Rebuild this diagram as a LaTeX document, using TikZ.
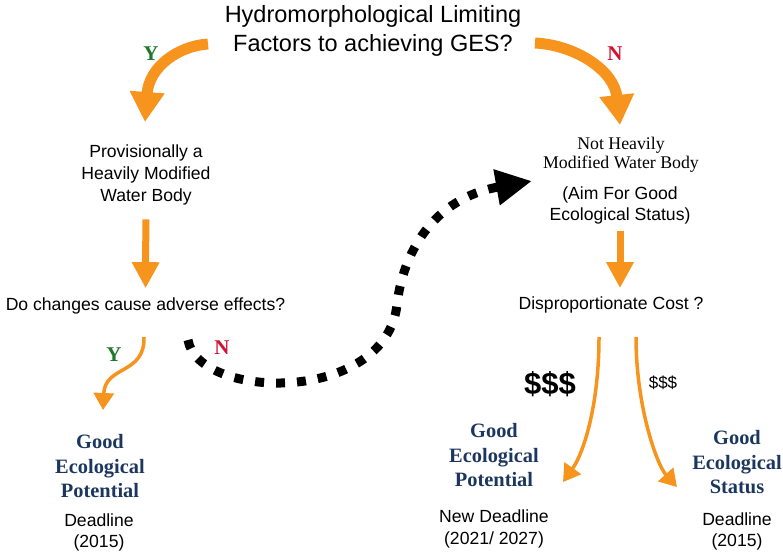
\documentclass[tikz,border=0pt]{standalone}
\usepackage{fontspec}
\setmainfont{Liberation Sans}
\newfontfamily\timesfont{Liberation Serif}
\usetikzlibrary{arrows.meta}

\definecolor{arroworange}{RGB}{247,148,29}
\definecolor{statusblue}{RGB}{28,55,95}
\definecolor{yesgreen}{RGB}{30,120,45}
\definecolor{nored}{RGB}{210,20,50}

\begin{document}
\begin{tikzpicture}
    [
        x=1pt, y=1pt,
        box/.style={inner sep=0pt, align=center, font=\fontsize{17.6}{22}\selectfont},
        serifbox/.style={inner sep=0pt, align=center, font=\timesfont\fontsize{17.8}{19}\selectfont},
        outcome/.style={inner sep=0pt, align=center, text=statusblue, font=\timesfont\bfseries\fontsize{20.4}{24.5}\selectfont},
        answer/.style={inner sep=0pt, font=\timesfont\bfseries\fontsize{21}{21}\selectfont},
        fat/.style={arroworange, line width=11pt, -{Triangle[width=33pt,length=30pt]}},
        drop/.style={arroworange, line width=7pt, -{Triangle[width=26pt,length=26pt]}},
        slim/.style={arroworange, line width=3.5pt, -{Triangle[width=20pt,length=17pt]}},
        hop/.style={black, line width=9pt, dash pattern=on 9pt off 12pt, -{Triangle[width=34pt,length=36pt]}},
    ]
    \useasboundingbox (0,0) rectangle (783,-552);

    % question
    \node (title) at (373,-31) [box, font=\fontsize{23.5}{29}\selectfont] {Hydromorphological Limiting\\Factors to achieving GES?};

    % yes side
    \node (prov)    at (146,-175)     [box]     {Provisionally a\\Heavily Modified\\Water Body};
    \node (adverse) at (145.5,-305.6) [box]     {Do changes cause adverse effects?};
    \node (gepL)    at (100,-466.3)   [outcome] {Good\\Ecological\\Potential};
    \node (dlL)     at (99,-532)      [box, font=\fontsize{17.6}{21}\selectfont] {Deadline\\(2015)};

    % no side
    \node (nothmwb) at (621,-154.5)   [serifbox] {Not Heavily\\Modified Water Body};
    \node (aim)     at (620,-205)     [box, font=\fontsize{17.6}{21}\selectfont] {(Aim For Good\\Ecological Status)};
    \node (disp)    at (611,-304.5)   [box]     {Disproportionate Cost ?};
    \node (gepM)    at (494,-455.4)   [outcome] {Good\\Ecological\\Potential};
    \node (dlM)     at (494,-529)     [box]     {New Deadline\\(2021/ 2027)};
    \node (gesR)    at (737,-462.4)   [outcome] {Good\\Ecological\\Status};
    \node (dlR)     at (737,-531.5)   [box, font=\fontsize{17.6}{21}\selectfont] {Deadline\\(2015)};

    % answers
    \node (yesA)   at (151,-54)  [answer, text=yesgreen] {Y};
    \node (noA)    at (615,-54)  [answer, text=nored]    {N};
    \node (yesB)   at (114,-355) [answer, text=yesgreen] {Y};
    \node (noB)    at (222,-348) [answer, text=nored]    {N};
    \node (costHi) at (550,-384) [inner sep=0pt, font=\bfseries\fontsize{31}{31}\selectfont] {\$\$\$};
    \node (costLo) at (663,-383) [inner sep=0pt, font=\fontsize{17}{17}\selectfont] {\$\$\$};

    % arrows
    \draw[fat] ([shift={(-165,-13)}]title.center) .. controls +(-30,-2) and +(4,55) .. ([shift={(-1,53)}]prov.center);
    \draw[fat] ([shift={(162,-12)}]title.center) .. controls +(40,-2) and +(-6,55) .. ([shift={(-1,29.5)}]nothmwb.center);

    \path
    (prov)       edge [drop, shorten <=14pt, shorten >=9pt] (adverse)
    (aim.south)  edge [drop, shorten <=7pt, shorten >=8pt]  (aim.south |- disp.north);

    \draw[slim] ([shift={(-1.5,-31.4)}]adverse.center) .. controls +(1,-38) and +(2,45) .. ([shift={(3,56.3)}]gepL.center);
    \draw[slim] ([shift={(-12,-32.5)}]disp.center) .. controls +(0,-70) and +(20,28) .. ([shift={(69,-26.6)}]gepM.center);
    \draw[slim] ([shift={(25,-32.5)}]disp.center) .. controls +(0,-70) and +(-20,22) .. ([shift={(-60,-24.6)}]gesR.center);

    \draw[hop] ([shift={(42.5,-34.4)}]adverse.center) .. controls +(10,-60) and +(-12,-100) .. (397,-305)
        .. controls +(4,40) and +(-107,-19) .. ([shift={(-89,-26.5)}]nothmwb.center);

\end{tikzpicture}
\end{document}
